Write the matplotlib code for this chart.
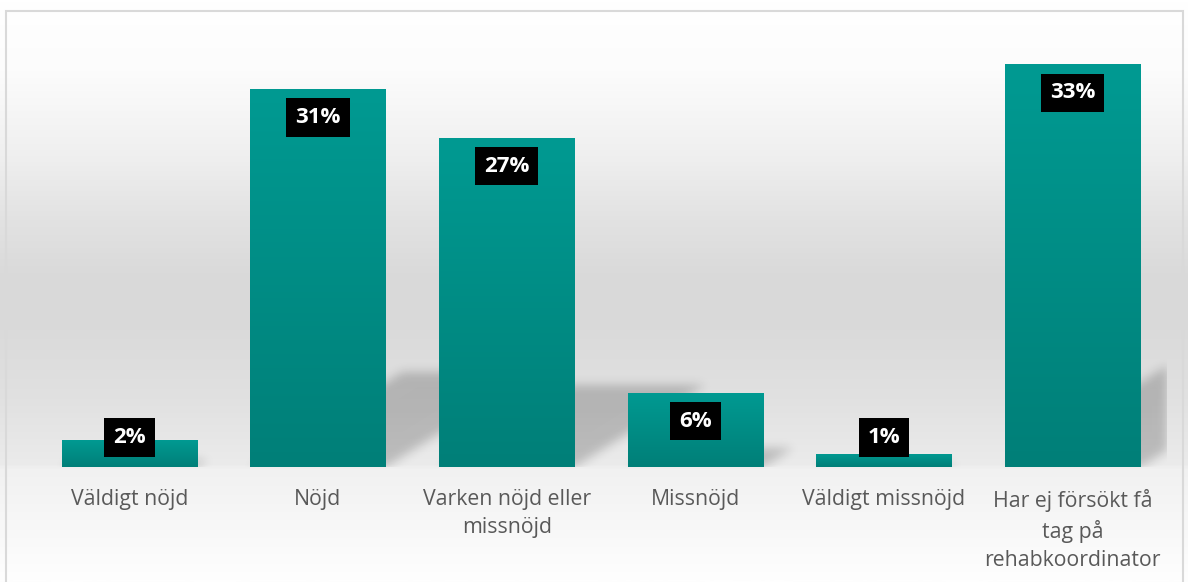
import numpy as np
import matplotlib
matplotlib.use('Agg')
import matplotlib.pyplot as plt
from matplotlib.colors import LinearSegmentedColormap
from matplotlib.patches import Rectangle
from matplotlib.path import Path

# ---------- data ----------
categories = ['Väldigt nöjd', 'Nöjd', 'Varken nöjd eller\nmissnöjd', 'Missnöjd',
              'Väldigt missnöjd', 'Har ej försökt få\ntag på\nrehabkoordinator']
values = [2.2, 31, 27, 6.1, 1.1, 33]
labels = ['2%', '31%', '27%', '6%', '1%', '33%']

plt.rcParams['font.family'] = ['Open Sans', 'DejaVu Sans']

W, H = 1188, 582
fig = plt.figure(figsize=(W / 100, H / 100), dpi=100)

# ---------- background gradient + border ----------
bg = fig.add_axes([0, 0, 1, 1], zorder=-5)
stops = [(0.0, '#ffffff'), (70 / H, '#fcfcfc'), (150 / H, '#f0f0f0'), (220 / H, '#e2e2e2'),
         (280 / H, '#d9d9d9'), (330 / H, '#dadada'), (400 / H, '#e1e1e1'),
         (466 / H, '#ebebeb'), (469 / H, '#f1f1f1'), (540 / H, '#f9f9f9'), (1.0, '#fefefe')]
cmap_bg = LinearSegmentedColormap.from_list('bg', stops)
bg.imshow(np.linspace(0, 1, 600).reshape(-1, 1), cmap=cmap_bg, aspect='auto',
          extent=[0, 1, 0, 1], origin='upper')
bg.set_xlim(0, 1)
bg.set_ylim(0, 1)
bg.axis('off')
bg.add_patch(Rectangle((5.5 / W, -0.05), 1177 / W, 1.05 - 10.5 / H, fill=False,
                       edgecolor='#d9d9d9', lw=1.5))

# ---------- main axes ----------
L, R, T, B = 35, 1167, 40, 467
ax = fig.add_axes([L / W, (H - B) / H, (R - L) / W, (B - T) / H])
ax.patch.set_alpha(0)
x = np.arange(len(categories))
xlim = (-0.5, len(categories) - 0.5)
ylim = (0, 35)
ax.set_xlim(*xlim)
ax.set_ylim(*ylim)

bars = ax.bar(x, values, width=0.716, color='none', edgecolor='none', zorder=3)

px_x = (R - L) / (xlim[1] - xlim[0])   # pixels per category
px_y = (B - T) / (ylim[1] - ylim[0])   # pixels per unit

# ---------- skewed perspective shadows (rasterised + blurred) ----------
nx, ny = R - L, B - T
gx = xlim[0] + (np.arange(nx) + 0.5) / px_x
gy = ylim[1] - (np.arange(ny) + 0.5) / px_y
GX, GY = np.meshgrid(gx, gy)
pts = np.column_stack([GX.ravel(), GY.ravel()])
mask = np.zeros(nx * ny)
for b, v in zip(bars, values):
    x0, w = b.get_x(), b.get_width()
    sh = 0.25 * v
    off = 1.6 * sh * px_y / px_x       # shear: 1.6 px right per px up
    poly = Path([(x0, 0), (x0 + w, 0), (x0 + w + off, sh), (x0 + off, sh), (x0, 0)])
    mask[poly.contains_points(pts)] = 1.0
mask = mask.reshape(ny, nx)
sig = 5
k = np.exp(-0.5 * (np.arange(-3 * sig, 3 * sig + 1) / sig) ** 2)
k /= k.sum()
mask = np.apply_along_axis(lambda r: np.convolve(r, k, mode='same'), 1, mask)
mask = np.apply_along_axis(lambda c: np.convolve(c, k, mode='same'), 0, mask)
rgba = np.zeros((ny, nx, 4))
rgba[..., 3] = mask * 0.2
ax.imshow(rgba, extent=[xlim[0], xlim[1], ylim[0], ylim[1]], aspect='auto',
          origin='upper', zorder=1, interpolation='nearest')

# ---------- gradient bars ----------
teal = LinearSegmentedColormap.from_list('teal', ['#009a92', '#007f78'])
grad = np.linspace(0, 1, 256).reshape(-1, 1)
for b, v in zip(bars, values):
    x0, w = b.get_x(), b.get_width()
    im = ax.imshow(grad, cmap=teal, aspect='auto', extent=[x0, x0 + w, 0, v],
                   origin='upper', zorder=3)
    im.set_clip_path(b)

ax.set_xlim(*xlim)
ax.set_ylim(*ylim)

# data labels in black boxes
for xi, v, lab in zip(x, values, labels):
    yl = max(v - 28.5 / px_y, 29.5 / px_y)
    ax.text(xi, yl, lab, ha='center', va='center', color='white', fontsize=16,
            fontweight='bold', zorder=5,
            bbox=dict(boxstyle='square,pad=0.4', facecolor='black', edgecolor='none'))

ax.set_xticks(x)
ax.set_xticklabels(categories, fontsize=15.3, color='#595959', linespacing=1.42)
ax.tick_params(axis='x', length=0, pad=16)
ax.set_yticks([])
for s in ax.spines.values():
    s.set_visible(False)

fig.savefig('out.png', dpi=100)
